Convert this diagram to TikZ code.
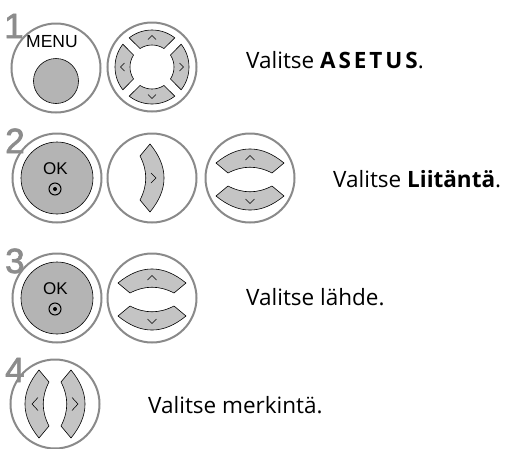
\documentclass[tikz,border=0pt]{standalone}
\usepackage{fontspec}
\setmainfont{Open Sans}
\newfontfamily\arialf{Liberation Sans}
\newfontfamily\numf[FakeBold=2]{Liberation Sans}
\definecolor{ringgray}{HTML}{8A8A8A}
\definecolor{seggray}{HTML}{C4C4C4}
\definecolor{btngray}{HTML}{B4B4B4}
\definecolor{numgray}{HTML}{8C8C8C}
\tikzset{
  outer/.style={circle, draw=ringgray, line width=2pt, fill=white, minimum size=89pt, inner sep=0pt},
  btn/.style={circle, draw=black, line width=0.6pt, fill=btngray, inner sep=0pt},
  seg/.style={draw=black, line width=0.6pt, fill=seggray, line join=round},
  chev/.style={draw=black, line width=0.55pt},
  stepnum/.style={font=\numf\fontsize{35}{35}\selectfont, text=numgray, anchor=base west, inner sep=0pt},
  lbl/.style={font=\fontsize{22.5}{26}\selectfont, anchor=base west, inner sep=0pt},
  oktxt/.style={font=\arialf\fontsize{17}{17}\selectfont, inner sep=0pt},
  okring/.style={circle, draw=black, line width=1pt, minimum size=12pt, inner sep=0pt},
  keyshape/.pic={
    \draw[seg] (0,34) .. controls (18.7,11.3) and (18.7,-11.3) .. (0,-34)
      -- (-10,-22) .. controls (-2.3,-7.3) and (-2.3,7.3) .. (-10,22) -- cycle;
  }
}
\begin{document}
\begin{tikzpicture}[x=1pt,y=1pt]
\useasboundingbox (0,0) rectangle (509,-448);

% ---------- row 1 ----------
\node[outer] (r1a) at (56,-68) {};
\node[outer] (r1b) at (152,-67) {};
\node[btn, minimum size=45pt] (menubtn) at (56,-81) {};
\node[font=\arialf\fontsize{17.5}{17.5}\selectfont, inner sep=0pt] (menutxt) at (52,-42) {MENU};
\begin{scope}[shift={(r1b.center)}]
  \foreach \d in {0,90,180,270}{
    \draw[seg] (\d-38:37) arc[start angle=\d-38, end angle=\d+38, radius=37]
      -- (\d+33:22) arc[start angle=\d+33, end angle=\d-33, radius=22] -- cycle;
    \draw[chev, rotate=\d] (27.5,4) -- (31.5,0) -- (27.5,-4);
  }
\end{scope}
\node[stepnum] (n1) at (4,-38) {1};
\node[lbl] (t1) at (246,-68) {Valitse \textbf{\addfontfeature{LetterSpace=13}ASETUS}.};

% ---------- row 2 ----------
\node[outer] (r2a) at (57,-178) {};
\node[outer] (r2b) at (152,-178) {};
\node[outer] (r2c) at (250,-178) {};
\node[btn, minimum size=72pt] (ok2) at (r2a.center) {};
\node[oktxt] (ok2t) at (55.5,-169) {OK};
\node[okring] (ok2r) at (55,-189) {};
\fill (ok2r.center) circle (2pt);
\begin{scope}[shift={(r2b.center)}]
  \pic[xshift=-2pt] {keyshape};
  \draw[chev] (-1,5) -- (4,0) -- (-1,-5);
\end{scope}
\begin{scope}[shift={(r2c.center)}]
  \pic[yshift=15pt, rotate=90] {keyshape};
  \pic[yshift=-18pt, rotate=-90] {keyshape};
  \draw[chev] (-4.5,18) -- (0,22.5) -- (4.5,18);
  \draw[chev] (-4.5,-21) -- (0,-25.5) -- (4.5,-21);
\end{scope}
\node[stepnum] (n2) at (5,-153) {2};
\node[lbl] (t2) at (333,-187) {Valitse \textbf{Liitäntä}.};

% ---------- row 3 ----------
\node[outer] (r3a) at (57,-298) {};
\node[outer] (r3b) at (152,-298) {};
\node[btn, minimum size=72pt] (ok3) at (r3a.center) {};
\node[oktxt] (ok3t) at (55.5,-289) {OK};
\node[okring] (ok3r) at (55,-309) {};
\fill (ok3r.center) circle (2pt);
\begin{scope}[shift={(r3b.center)}]
  \pic[yshift=15pt, rotate=90] {keyshape};
  \pic[yshift=-18pt, rotate=-90] {keyshape};
  \draw[chev] (-4.5,18) -- (0,22.5) -- (4.5,18);
  \draw[chev] (-4.5,-21) -- (0,-25.5) -- (4.5,-21);
\end{scope}
\node[stepnum] (n3) at (5,-273) {3};
\node[lbl] (t3) at (246,-305) {Valitse lähde.};

% ---------- row 4 ----------
\node[outer] (r4a) at (55,-404) {};
\begin{scope}[shift={(r4a.center)}]
  \pic[xshift=16pt] {keyshape};
  \pic[xshift=-16pt, rotate=180] {keyshape};
  \draw[chev] (17,6.5) -- (23,0) -- (17,-6.5);
  \draw[chev] (-17,6.5) -- (-23,0) -- (-17,-6.5);
\end{scope}
\node[stepnum] (n4) at (5,-382) {4};
\node[lbl] (t4) at (148,-413) {Valitse merkintä.};
\end{tikzpicture}
\end{document}
